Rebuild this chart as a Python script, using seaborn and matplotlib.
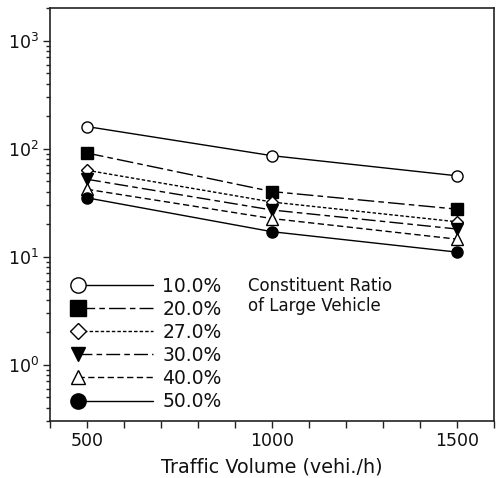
import numpy as np
import pandas as pd
import matplotlib
matplotlib.use("Agg")
import matplotlib.pyplot as plt
import seaborn as sns
from matplotlib.legend_handler import HandlerLine2DCompound
from matplotlib.lines import Line2D
from matplotlib.ticker import MultipleLocator, LogLocator, NullFormatter

# ---- data ----
traffic = [500, 1000, 1500]
labels = ["10.0%", "20.0%", "27.0%", "30.0%", "40.0%", "50.0%"]
r10 = [160, 86, 56]
r20 = [91, 40, 27.5]
r27 = [63, 32, 21]
r30 = [52, 27, 18]
r40 = [42, 22.5, 14.5]
r50 = [35, 17, 11]
series = [r10, r20, r27, r30, r40, r50]

sns.set_theme(style="white")
plt.rcParams['font.family'] = ['DejaVu Sans']

markers = ['o', 's', 'D', 'v', '^', 'o']
filled = [False, True, False, True, False, True]
msizes = [8, 9, 6.5, 8, 8, 8]
lmsizes = [11, 11, 8.5, 10, 10, 11]
dashes = ['-', (0, (12, 3, 4, 3)), (0, (2.5, 1.5)), (0, (10, 3, 4, 3)), (0, (4.5, 2.5)), '-']

fig = plt.figure(figsize=(4.98, 4.78), dpi=100)
ax = fig.add_axes([0.1004, 0.1192, 0.8916, 0.8638])

for vals, lab, m, f, ms, ls in zip(series, labels, markers, filled, msizes, dashes):
    df = pd.DataFrame({"x": traffic, "y": vals})
    sns.lineplot(data=df, x="x", y="y", ax=ax, color='black', linewidth=1.0,
                 linestyle=ls, marker=m, markersize=ms,
                 markerfacecolor='black' if f else 'white',
                 markeredgecolor='black', markeredgewidth=1.0, legend=False)

ax.set_yscale('log')
ax.set_xlim(400, 1600)
ax.set_ylim(0.3, 2000)
ax.set_xticks(traffic)
ax.xaxis.set_minor_locator(MultipleLocator(100))
ax.yaxis.set_major_locator(LogLocator(base=10, numticks=10))
ax.yaxis.set_minor_locator(LogLocator(base=10, subs=np.arange(2, 10), numticks=20))
ax.yaxis.set_minor_formatter(NullFormatter())

ax.tick_params(axis='both', which='major', direction='out', length=5, width=1.0,
               color='#222', labelsize=12.5, labelcolor='#111', pad=3)
ax.tick_params(axis='x', which='minor', direction='out', length=5, width=1.0, color='#222')
ax.tick_params(axis='y', which='minor', direction='out', length=3, width=1.0, color='#222')
ax.tick_params(bottom=True, left=True, which='both')

for sp in ax.spines.values():
    sp.set_color('#222')
    sp.set_linewidth(1.2)
    sp.set_visible(True)

ax.set_xlabel("Traffic Volume (vehi./h)", fontsize=13.8, color='#111', labelpad=5)
ax.set_ylabel("")


class LeftMarkerHandler(HandlerLine2DCompound):
    def get_xdata(self, legend, xdescent, ydescent, width, height, fontsize):
        xdata = np.array([-xdescent, -xdescent + width])
        return xdata, np.array([-xdescent])


new_handles = []
for m, f, lms, ls in zip(markers, filled, lmsizes, dashes):
    nh = Line2D([], [], color='black', linewidth=1.0, linestyle=ls,
                marker=m, markersize=lms,
                markerfacecolor='black' if f else 'white', markeredgecolor='black',
                markeredgewidth=1.0)
    new_handles.append(nh)

leg = ax.legend(new_handles, labels, loc='upper left', bbox_to_anchor=(0.063, 0.35),
                frameon=False, fontsize=13.5, handlelength=4.0, handletextpad=0.5,
                labelspacing=0.22, borderpad=0, borderaxespad=0, numpoints=1,
                handler_map={Line2D: LeftMarkerHandler()})
for t in leg.get_texts():
    t.set_color('#111')

ax.text(0.446, 0.35, "Constituent Ratio\nof Large Vehicle", transform=ax.transAxes,
        fontsize=12, va='top', ha='left', color='#111', linespacing=1.15)

fig.savefig("out.png", dpi=100)
